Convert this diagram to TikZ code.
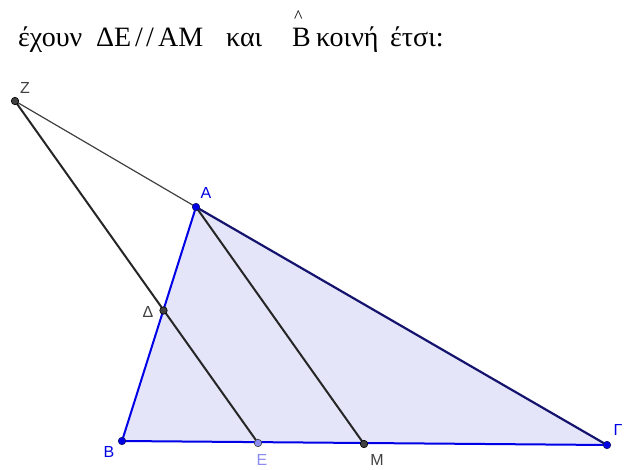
\documentclass[tikz,border=0pt]{standalone}
\usepackage{fontspec}
\setmainfont{Liberation Serif}
\newfontfamily\lblfont{Liberation Sans}
\definecolor{ggblue}{HTML}{0000E6}
\definecolor{ggnavy}{HTML}{14146E}
\definecolor{ggfill}{HTML}{E5E5FA}
\definecolor{gggray}{HTML}{404040}
\definecolor{ggE}{HTML}{8C8CF0}
\newcommand{\hpiece}[2]{\makebox[#1pt][l]{#2}}
\tikzset{
  ptdark/.style={circle,inner sep=0pt,minimum size=7.5pt,draw=black,fill=gggray,line width=0.6pt},
  ptblue/.style={circle,inner sep=0pt,minimum size=7.5pt,draw=ggnavy,fill=ggblue,line width=0.6pt},
  ptlight/.style={circle,inner sep=0pt,minimum size=7.5pt,draw=gggray,fill=ggE,line width=0.6pt},
  lbl/.style={font=\lblfont\fontsize{16}{16}\selectfont,inner sep=0pt},
  thinseg/.style={line width=1.2pt,draw=gggray},
  blackseg/.style={line width=2pt,draw=black!85},
  blueseg/.style={line width=2pt,draw=ggblue},
  navyseg/.style={line width=2.2pt,draw=ggnavy}
}
\begin{document}
\begin{tikzpicture}[x=1pt,y=-1pt]
\useasboundingbox (0,0) rectangle (627,469);
% points
\coordinate (Z) at (15,101);
\coordinate (A) at (196,207);
\coordinate (B) at (122,441);
\coordinate (G) at (607,445);
\coordinate (D) at (163.5,310.5);
\coordinate (E) at (258,443);
\coordinate (M) at (364,444);
% header
\node[anchor=base west,inner sep=0pt,font=\fontsize{28}{28}\selectfont] (hdr) at (18,46)
  {\hpiece{78}{έχουν}\hpiece{39}{ΔΕ}\hpiece{11}{/}\hpiece{12}{/}\hpiece{68}{ΑΜ}\hpiece{66}{και}\hpiece{24}{\rlap{\kern2pt\raisebox{24pt}{\fontsize{18}{18}\selectfont\textasciicircum}}Β}\hpiece{74}{κοινή}έτσι:};
% triangle fill
\fill[ggfill] (A) -- (B) -- (G) -- cycle;
% segments
\draw[thinseg] (Z) -- (A);
\draw[blackseg] (Z) -- (E);
\draw[blackseg] (A) -- (M);
\draw[blueseg] (A) -- (B);
\draw[blueseg] (B) -- (G);
\draw[navyseg] (A) -- (G);
% dots
\node[ptdark] (Zp) at (Z) {};
\node[ptblue] (Ap) at (A) {};
\node[ptblue] (Bp) at (B) {};
\node[ptblue] (Gp) at (G) {};
\node[ptdark] (Dp) at (D) {};
\node[ptlight] (Ep) at (E) {};
\node[ptdark] (Mp) at (M) {};
% labels
\node[lbl,text=gggray] (Zl) at (25,88) {Z};
\node[lbl,text=ggblue] (Al) at (206,193) {A};
\node[lbl,text=gggray] (Dl) at (148,312) {Δ};
\node[lbl,text=ggblue] (Bl) at (109,452) {B};
\node[lbl,text=ggE] (El) at (262,460) {E};
\node[lbl,text=gggray] (Ml) at (377,460) {M};
\node[lbl,text=ggblue] (Gl) at (618,430) {Γ};
\end{tikzpicture}
\end{document}
